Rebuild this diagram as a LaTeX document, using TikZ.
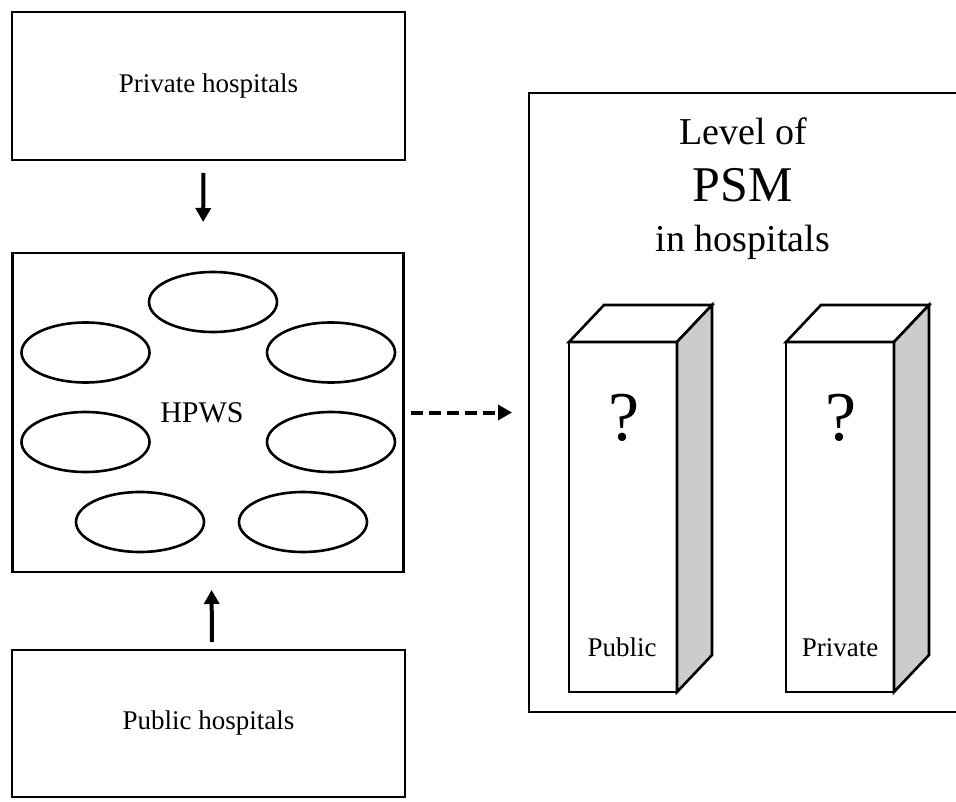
\documentclass[tikz,border=0pt]{standalone}
\usepackage{fontspec}
\setmainfont{Liberation Serif}
\usetikzlibrary{arrows.meta,shapes.geometric}

\tikzset{
  frame/.style={draw, line width=2.6pt, rectangle, outer sep=0pt, inner sep=0pt},
  practice/.style={draw, line width=2.6pt, ellipse, outer sep=0pt, inner sep=0pt,
                   minimum width=128pt, minimum height=60pt},
  barfront/.style={draw, line width=2.6pt, rectangle, fill=white, outer sep=0pt,
                   inner sep=0pt, minimum width=108pt, minimum height=350pt},
  barface/.style={draw, line width=2.6pt, line join=miter},
  flow/.style={line width=4pt, -{Triangle[length=14pt,width=15pt]}},
  txt/.style={font=\fontsize{27}{32}\selectfont},
  bigtxt/.style={font=\fontsize{38}{44}\selectfont},
}

\begin{document}
\begin{tikzpicture}[x=1pt, y=-1pt]
  \useasboundingbox (0,0) rectangle (956,802);
  \clip (0,0) rectangle (956,802);

  % left column
  \node[frame, minimum width=393pt, minimum height=148pt, txt] (priv) at (208.5,86) {Private hospitals};
  \node[frame, minimum width=391pt, minimum height=319pt] (hpws) at (208,412.5) {};
  \node[frame, minimum width=393pt, minimum height=147pt, txt] (pub) at (208.5,723.5) {Public hospitals};

  % practices inside the HPWS bundle
  \node[font=\fontsize{30}{36}\selectfont] (hpwslabel) at (202,413) {HPWS};
  \node[practice] (e1) at (213,302) {};
  \node[practice] (e2) at (85.5,352.5) {};
  \node[practice] (e3) at (331,352.5) {};
  \node[practice] (e4) at (85.5,442) {};
  \node[practice] (e5) at (331,442) {};
  \node[practice] (e6) at (140,522) {};
  \node[practice] (e7) at (303,522) {};

  % influences on the bundle
  \draw[flow, shorten <=13pt, shorten >=31pt] ([xshift=-5pt]priv.south) -- ([xshift=-5pt]hpws.north);
  \draw[flow, shorten <=8pt, shorten >=18pt] ([xshift=3.5pt]pub.north) -- ([xshift=3.5pt]hpws.south);

  % outcome panel
  \node[frame, minimum width=441pt, minimum height=619pt] (psm) at (749.5,402.5) {};
  \node[bigtxt, anchor=base] (lvl) at (743,145) {Level of};
  \node[font=\fontsize{50}{56}\selectfont, anchor=base] (psmtxt) at (743,202) {PSM};
  \node[bigtxt, anchor=base] (inh) at (743,252) {in hospitals};

  % dashed link
  \draw[flow, dash pattern=on 12pt off 6pt, shorten <=7pt, shorten >=17pt]
    (hpws.east) -- (hpws.east -| psm.west);

  % bars
  \node[barfront] (pubbar) at (623,517) {};
  \draw[barface, fill=white] (pubbar.north west) -- ++(35,-37) -- ++(108,0) -- (pubbar.north east) -- cycle;
  \draw[barface, fill=black!20] (pubbar.north east) -- ++(35,-37) -- ++(0,350) -- (pubbar.south east) -- cycle;
  \node[font=\fontsize{70}{76}\selectfont, anchor=base] (pubq) at (624,440) {?};
  \node[txt, anchor=base] (publab) at (622,656) {Public};

  \node[barfront] (privbar) at (840,517) {};
  \draw[barface, fill=white] (privbar.north west) -- ++(35,-37) -- ++(108,0) -- (privbar.north east) -- cycle;
  \draw[barface, fill=black!20] (privbar.north east) -- ++(35,-37) -- ++(0,350) -- (privbar.south east) -- cycle;
  \node[font=\fontsize{70}{76}\selectfont, anchor=base] (privq) at (841,440) {?};
  \node[txt, anchor=base] (privlab) at (840,656) {Private};
\end{tikzpicture}
\end{document}
